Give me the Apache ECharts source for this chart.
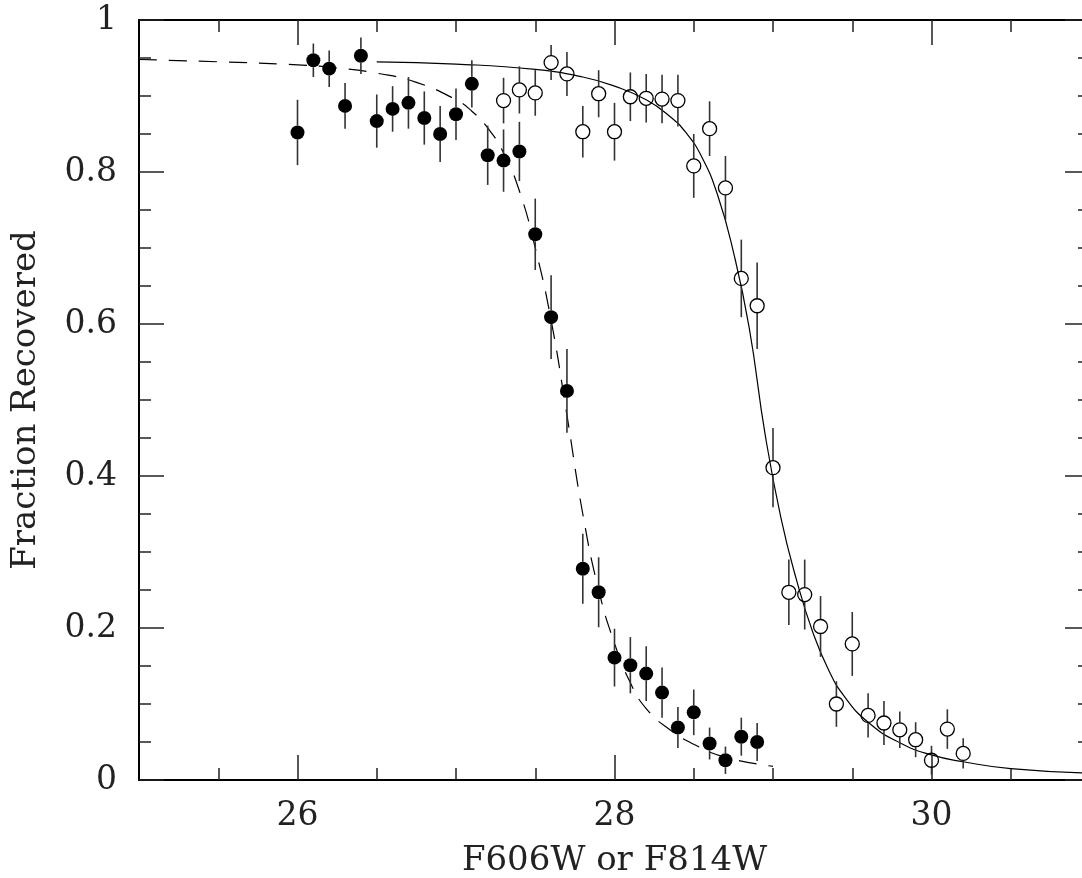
<!DOCTYPE html>
<html>
<head>
<meta charset="utf-8">
<script src="https://cdn.jsdelivr.net/npm/echarts@6/dist/echarts.min.js"></script>
<style>
  html, body { margin: 0; padding: 0; background: #fff; }
  #chart { width: 1082px; height: 878px; }
</style>
</head>
<body>
<div id="chart"></div>
<script>
// F606W recovered fraction (filled circles) with 1-sigma errors
const f606Mag  = [26.0, 26.1, 26.2, 26.3, 26.4, 26.5, 26.6, 26.7, 26.8, 26.9,
                  27.0, 27.1, 27.2, 27.3, 27.4, 27.5, 27.6, 27.7, 27.8, 27.9,
                  28.0, 28.1, 28.2, 28.3, 28.4, 28.5, 28.6, 28.7, 28.8, 28.9];
const f606Frac = [0.852, 0.947, 0.936, 0.887, 0.953, 0.867, 0.883, 0.891, 0.871, 0.850,
                  0.876, 0.916, 0.822, 0.815, 0.827, 0.718, 0.609, 0.512, 0.278, 0.247,
                  0.161, 0.151, 0.140, 0.115, 0.069, 0.089, 0.048, 0.026, 0.057, 0.050];
const f606Err  = [0.043, 0.022, 0.024, 0.030, 0.024, 0.035, 0.030, 0.034, 0.035, 0.037,
                  0.034, 0.031, 0.039, 0.041, 0.039, 0.047, 0.055, 0.055, 0.046, 0.046,
                  0.038, 0.037, 0.036, 0.033, 0.027, 0.030, 0.021, 0.018, 0.025, 0.025];

// F814W recovered fraction (open circles) with 1-sigma errors
const f814Mag  = [27.3, 27.4, 27.5, 27.6, 27.7, 27.8, 27.9, 28.0, 28.1, 28.2,
                  28.3, 28.4, 28.5, 28.6, 28.7, 28.8, 28.9, 29.0, 29.1, 29.2,
                  29.3, 29.4, 29.5, 29.6, 29.7, 29.8, 29.9, 30.0, 30.1, 30.2];
const f814Frac = [0.894, 0.908, 0.904, 0.944, 0.929, 0.853, 0.903, 0.853, 0.899, 0.897,
                  0.896, 0.894, 0.808, 0.857, 0.779, 0.660, 0.624, 0.411, 0.247, 0.244,
                  0.202, 0.100, 0.179, 0.085, 0.075, 0.066, 0.053, 0.026, 0.067, 0.035];
const f814Err  = [0.030, 0.031, 0.030, 0.023, 0.029, 0.034, 0.031, 0.038, 0.032, 0.032,
                  0.032, 0.034, 0.042, 0.036, 0.042, 0.051, 0.057, 0.052, 0.043, 0.046,
                  0.040, 0.030, 0.042, 0.029, 0.029, 0.024, 0.023, 0.019, 0.026, 0.020];

// Fitted completeness curves
const f606FitMag  = [25.0, 25.5, 26.0, 26.25, 26.5, 26.75, 27.0, 27.1, 27.2, 27.3,
                     27.4, 27.5, 27.6, 27.7, 27.8, 27.9, 28.0, 28.1, 28.2, 28.35,
                     28.5, 28.7, 29.0];
const f606FitFrac = [0.948, 0.945, 0.941, 0.937, 0.930, 0.918, 0.895, 0.880, 0.858, 0.825,
                     0.775, 0.700, 0.605, 0.480, 0.350, 0.250, 0.180, 0.128, 0.094, 0.066,
                     0.047, 0.030, 0.018];
const f814FitMag  = [26.5, 27.0, 27.5, 27.8, 28.0, 28.2, 28.35, 28.45, 28.55, 28.65,
                     28.75, 28.85, 28.95, 29.05, 29.15, 29.25, 29.35, 29.45, 29.6, 29.8,
                     30.0, 30.2, 30.5, 31.0];
const f814FitFrac = [0.945, 0.942, 0.935, 0.925, 0.913, 0.895, 0.873, 0.852, 0.820, 0.770,
                     0.695, 0.595, 0.455, 0.345, 0.262, 0.195, 0.145, 0.110, 0.076, 0.049,
                     0.033, 0.024, 0.015, 0.009];

// Tick positions on the magnitude axis
const xMajorTicks = [26, 28, 30];
const xMinorTicks = [25.5, 26.5, 27, 27.5, 28.5, 29, 29.5, 30.5];

const FONT = 'DejaVu Serif';
const INK = '#000';
const TICK = { color: '#222', width: 1.5 };
const MARK_R = 7;

const zip = (a, b, c) => a.map((v, i) => c ? [v, b[i], c[i]] : [v, b[i]]);

function errorBarItem(params, api) {
  const x = api.value(0), y = api.value(1), e = api.value(2);
  const c = api.coord([x, y]);
  const hi = api.coord([x, y + e]);
  const lo = api.coord([x, y - e]);
  const st = { stroke: '#333', lineWidth: 1.6 };
  return {
    type: 'group',
    children: [
      { type: 'line', shape: { x1: c[0], y1: hi[1], x2: c[0], y2: c[1] - MARK_R }, style: st },
      { type: 'line', shape: { x1: c[0], y1: c[1] + MARK_R, x2: c[0], y2: lo[1] }, style: st }
    ]
  };
}

function xAxisDef(position, ticks, len, withLine, withLabels) {
  return {
    type: 'value', position, min: 25, max: 31,
    axisLine: { show: withLine, onZero: false, lineStyle: { color: INK, width: 2 } },
    axisTick: { show: true, inside: true, length: len, customValues: ticks, lineStyle: TICK },
    axisLabel: withLabels
      ? { show: true, customValues: xMajorTicks, margin: 20, fontFamily: FONT, fontSize: 33, color: '#222' }
      : { show: false },
    splitLine: { show: false }
  };
}

function yAxisDef(position, withLabels) {
  return {
    type: 'value', position, min: 0, max: 1, interval: 0.2,
    axisLine: { show: true, onZero: false, lineStyle: { color: INK, width: 2 } },
    axisTick: { show: true, inside: true, length: 25, lineStyle: TICK },
    minorTick: { show: true, splitNumber: 4, length: 12, lineStyle: TICK },
    axisLabel: withLabels
      ? { show: true, margin: 22, fontFamily: FONT, fontSize: 33, color: '#222' }
      : { show: false },
    splitLine: { show: false },
    minorSplitLine: { show: false }
  };
}

const xBottom = xAxisDef('bottom', xMajorTicks, 25, true, true);
xBottom.name = 'F606W or F814W';
xBottom.nameLocation = 'middle';
xBottom.nameGap = 64;
xBottom.nameTextStyle = { fontFamily: FONT, fontSize: 34, color: '#222' };

const yLeft = yAxisDef('left', true);
yLeft.name = 'Fraction Recovered';
yLeft.nameLocation = 'middle';
yLeft.nameGap = 96;
yLeft.nameRotate = 90;
yLeft.nameTextStyle = { fontFamily: FONT, fontSize: 34, color: '#222' };

const chart = echarts.init(document.getElementById('chart'), null, { renderer: 'canvas' });
chart.setOption({
  animation: false,
  backgroundColor: '#fff',
  textStyle: { fontFamily: FONT },
  grid: { left: 139, top: 20, width: 951, height: 760, containLabel: false, outerBoundsMode: 'none' },
  xAxis: [
    xBottom,
    xAxisDef('bottom', xMinorTicks, 12, false, false),
    xAxisDef('top', xMajorTicks, 25, true, false),
    xAxisDef('top', xMinorTicks, 12, false, false)
  ],
  yAxis: [yLeft, yAxisDef('right', false)],
  series: [
    {
      name: 'F606W fit', type: 'line', data: zip(f606FitMag, f606FitFrac),
      showSymbol: false, smooth: 0.5,
      lineStyle: { color: INK, width: 1.2, type: [18, 12] }, z: 2
    },
    {
      name: 'F814W fit', type: 'line', data: zip(f814FitMag, f814FitFrac),
      showSymbol: false, smooth: 0.5,
      lineStyle: { color: INK, width: 1.2 }, z: 2
    },
    {
      name: 'F606W errors', type: 'custom', renderItem: errorBarItem,
      data: zip(f606Mag, f606Frac, f606Err), z: 3
    },
    {
      name: 'F814W errors', type: 'custom', renderItem: errorBarItem,
      data: zip(f814Mag, f814Frac, f814Err), z: 3
    },
    {
      name: 'F606W', type: 'scatter', data: zip(f606Mag, f606Frac),
      symbol: 'circle', symbolSize: MARK_R * 2,
      itemStyle: { color: INK, opacity: 1 }, z: 4
    },
    {
      name: 'F814W', type: 'scatter', data: zip(f814Mag, f814Frac),
      symbol: 'circle', symbolSize: MARK_R * 2,
      itemStyle: { color: 'rgba(255,255,255,0)', borderColor: INK, borderWidth: 1.3, opacity: 1 }, z: 4
    }
  ]
});
</script>
</body>
</html>
